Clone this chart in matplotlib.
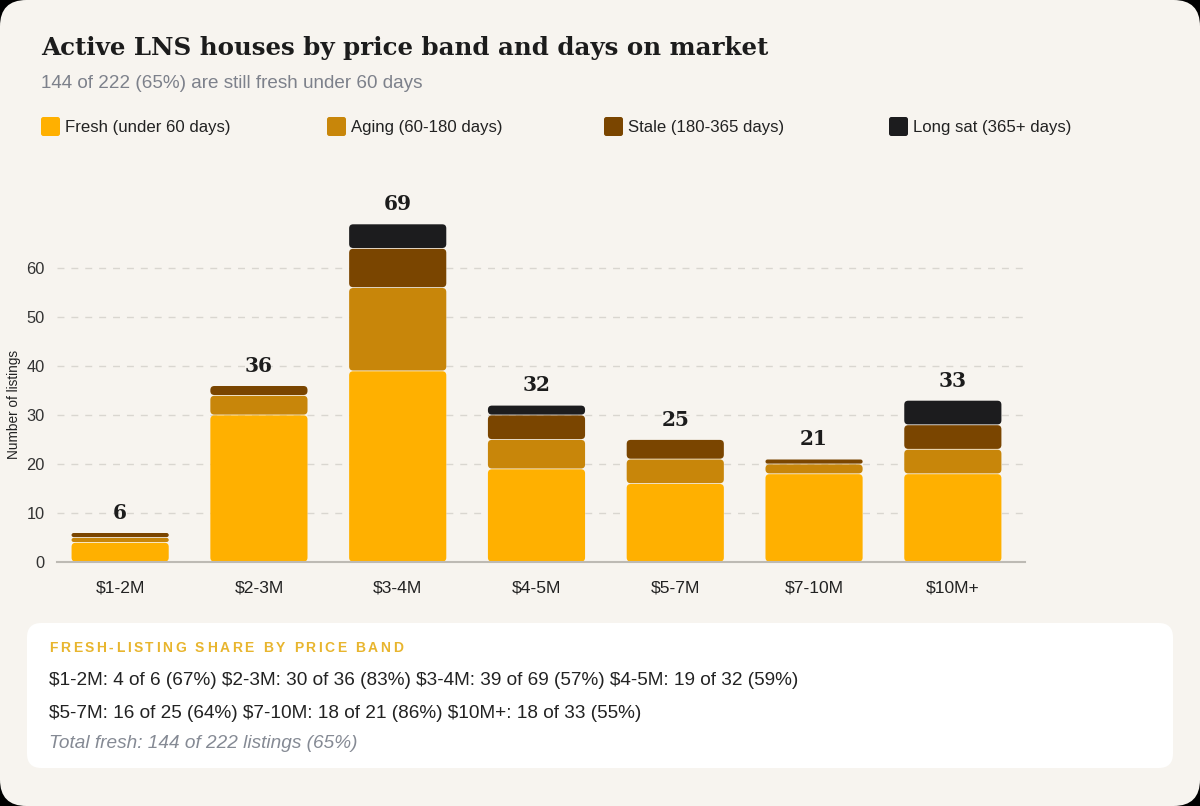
import matplotlib
matplotlib.use("Agg")
import matplotlib.pyplot as plt
from matplotlib.patches import FancyBboxPatch
import numpy as np

# ---------------- data ----------------
bands = ["$1-2M", "$2-3M", "$3-4M", "$4-5M", "$5-7M", "$7-10M", "$10M+"]
fresh = [4, 30, 39, 19, 16, 18, 18]
aging = [1, 4, 17, 6, 5, 2, 5]
stale = [1, 2, 8, 5, 4, 1, 5]
long_sat = [0, 0, 5, 2, 0, 0, 5]
series_names = ["Fresh (under 60 days)", "Aging (60-180 days)",
                "Stale (180-365 days)", "Long sat (365+ days)"]
yticks = [0, 10, 20, 30, 40, 50, 60]

colors = ["#FFB000", "#C8860A", "#7A4500", "#1C1C1E"]
BG = "#F7F4EF"
SANS = ["Liberation Sans", "DejaVu Sans"]
SERIF = ["DejaVu Serif"]

W, H = 1200, 806
fig = plt.figure(figsize=(W / 100, H / 100), dpi=100)
fig.patch.set_facecolor("#000000")

def fx(px):
    return px / W

def fy(py):
    return 1 - py / H

# card background
card = FancyBboxPatch((0, 0), 1, 1, boxstyle="round,pad=0,rounding_size=0.022",
                      mutation_aspect=W / H, transform=fig.transFigure,
                      facecolor=BG, edgecolor="none", zorder=-10)
fig.patches.append(card)

# bottom white panel
panel = FancyBboxPatch((fx(27), fy(768)), fx(1173) - fx(27), fy(623) - fy(768),
                       boxstyle="round,pad=0,rounding_size=0.012",
                       mutation_aspect=W / H, transform=fig.transFigure,
                       facecolor="#FFFFFF", edgecolor="none", zorder=-9)
fig.patches.append(panel)

# ---------------- axes ----------------
ymax = 75
y0px, y60px = 562, 268
ppu = (y0px - y60px) / 60.0
top_px = y0px - ymax * ppu
ax = fig.add_axes([fx(57), fy(y0px), fx(1025) - fx(57), fy(top_px) - fy(y0px)])
ax.set_zorder(1)
ax.set_facecolor("none")
xlo, xhi = -0.455, 6.52
ax.set_xlim(xlo, xhi)
ax.set_ylim(0, ymax)

x = np.arange(len(bands))
bw = 0.70
series = [fresh, aging, stale, long_sat]
bottom = np.zeros(len(bands))

ax_w_px = 1025 - 57
x_ppu = ax_w_px / (xhi - xlo)
aspect = x_ppu / ppu
r_x = 4.0 / x_ppu

for vals, col in zip(series, colors):
    bars = ax.bar(x, vals, bw, bottom=bottom, color=col, linewidth=0)
    for b in bars:
        bx, by = b.get_x(), b.get_y()
        bwid, bh = b.get_width(), b.get_height()
        b.set_visible(False)
        if bh <= 0:
            continue
        gap = 0.8 / ppu
        hh = max(bh - gap, 0.05)
        rr = min(r_x, hh / (2 * aspect) * 0.999)
        p = FancyBboxPatch((bx, by + gap / 2), bwid, hh,
                           boxstyle=f"round,pad=0,rounding_size={rr}",
                           mutation_aspect=aspect, facecolor=col,
                           edgecolor="none", zorder=3)
        ax.add_patch(p)
    bottom = bottom + np.array(vals)

totals = bottom
for xi, t in zip(x, totals):
    ax.annotate(f"{int(t)}", (xi, t), xytext=(0, 7), textcoords="offset points",
                ha="center", va="bottom", fontsize=14.5, fontweight="bold",
                family=SERIF, color="#1C1C1C")

ax.set_yticks(yticks)
ax.set_xticks(x)
ax.set_xticklabels(bands, family=SANS, fontsize=12.6, color="#222222")
ax.set_yticklabels([str(v) for v in yticks], family=SANS, fontsize=11.8, color="#333333")
ax.tick_params(axis="both", length=0)
ax.tick_params(axis="x", pad=13)
ax.tick_params(axis="y", pad=9)
ax.grid(axis="y", color="#D9D6D0", linestyle=(0, (5, 5)), linewidth=1)
ax.set_axisbelow(True)
for s in ["top", "right", "left"]:
    ax.spines[s].set_visible(False)
ax.spines["bottom"].set_color("#BDBAB4")
ax.spines["bottom"].set_linewidth(1.5)
ax.spines["bottom"].set_zorder(4)

fig.text(fx(14), fy(404), "Number of listings", rotation=90, ha="center",
         va="center", fontsize=9.8, family=SANS, color="#222222")

# ---------------- titles ----------------
fig.text(fx(41), fy(48), "Active LNS houses by price band and days on market",
         ha="left", va="center", fontsize=17.65, fontweight="bold",
         family=SERIF, color="#1C1C1C")
fig.text(fx(41), fy(84), "144 of 222 (65%) are still fresh under 60 days",
         ha="left", va="center", fontsize=13.6, family=SANS, color="#7D818B")

# ---------------- legend ----------------
leg_x = [41, 327, 604, 889]
for lx, name, col in zip(leg_x, series_names, colors):
    sq = FancyBboxPatch((fx(lx), fy(136)), fx(19), 19 / H,
                        boxstyle="round,pad=0,rounding_size=0.002",
                        mutation_aspect=W / H, transform=fig.transFigure,
                        facecolor=col, edgecolor="none")
    fig.patches.append(sq)
    fig.text(fx(lx + 24), fy(127.5), name, ha="left", va="center",
             fontsize=12.1, family=SANS, color="#222222")

# ---------------- bottom panel text ----------------
heading = "FRESH-LISTING SHARE BY PRICE BAND"
renderer = fig.canvas.get_renderer()
cx = 49.0
spacing = 2.6
for ch in heading:
    t = fig.text(fx(cx), fy(648), ch, ha="left", va="center", fontsize=10,
                 fontweight="bold", family=SANS, color="#E8B52E")
    if ch == " ":
        tmp = fig.text(0, 0, "a a", fontsize=10, fontweight="bold", family=SANS)
        tmp2 = fig.text(0, 0, "aa", fontsize=10, fontweight="bold", family=SANS)
        w = tmp.get_window_extent(renderer).width - tmp2.get_window_extent(renderer).width
        tmp.remove()
        tmp2.remove()
    else:
        w = t.get_window_extent(renderer).width
    cx += w + spacing

share_parts = []
for b, f, t in zip(bands, fresh, totals):
    share_parts.append(f"{b}: {f} of {int(t)} ({round(100 * f / t)}%)")
line1 = " ".join(share_parts[:4])
line2 = " ".join(share_parts[4:])
fig.text(fx(49), fy(680.5), line1.replace("$", r"\$"), ha="left", va="center",
         fontsize=13.7, family=SANS, color="#222222")
fig.text(fx(49), fy(714), line2.replace("$", r"\$"), ha="left", va="center",
         fontsize=13.7, family=SANS, color="#222222")
tot_f = sum(fresh)
tot = int(sum(totals))
fig.text(fx(49), fy(744), f"Total fresh: {tot_f} of {tot} listings ({round(100 * tot_f / tot)}%)",
         ha="left", va="center", fontsize=13.7, family=SANS, style="italic",
         color="#858A94")

fig.savefig("out.png", dpi=100, facecolor=fig.get_facecolor())
